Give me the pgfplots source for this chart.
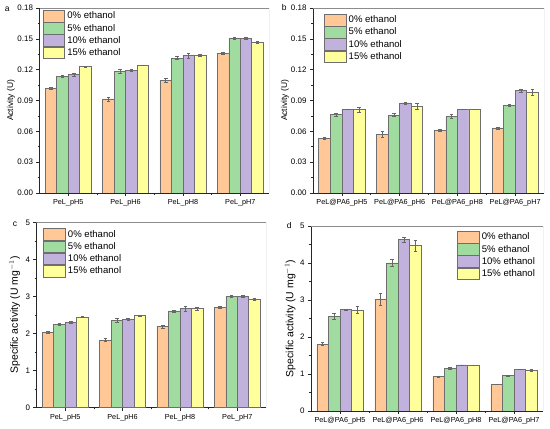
\documentclass[border=0pt]{standalone}
\usepackage{fontspec}
\setmainfont{Liberation Sans}
\usepackage{pgfplots}
\pgfplotsset{compat=1.18}
\definecolor{cA}{HTML}{FFC896}
\definecolor{cB}{HTML}{A0DCA0}
\definecolor{cC}{HTML}{C0B2DC}
\definecolor{cD}{HTML}{FFFF9C}
\definecolor{edge}{HTML}{6E6E6E}
\pgfplotsset{
  panel/.style={
    scale only axis, ybar,
    xmin=0.5, xmax=4.5, xtick={1,2,3,4}, minor xtick={1.5,2.5,3.5},
    ymin=0,
    axis x line*=bottom, axis y line*=left,
    tick align=outside, major tick length=3bp, minor tick length=1.8bp,
    tick style={draw=black!85, line width=0.6bp},
    axis line style={draw=black!85, line width=0.7bp},
    /pgf/number format/assume math mode=true,
    yticklabel style={font=\fontsize{8}{9}\selectfont},
    xticklabel style={font=\fontsize{7.3}{8}\selectfont},
    legend style={draw=none, fill=none, inner sep=0pt, outer sep=0pt,
      row sep=0pt, column sep=2bp,
      font=\fontsize{9.6}{11}\selectfont, cells={anchor=west},
      nodes={inner sep=0.5bp}},
    legend image code/.code={\draw[##1] (0bp,-5.8bp) rectangle (21.5bp,5.8bp);},
    every axis plot/.append style={draw=edge, line width=0.6bp, bar width=0.2},
    error bars/y dir=both, error bars/y explicit,
    error bars/error bar style={draw=black!60, line width=0.5bp},
    error bars/error mark options={rotate=90, mark size=1.8bp, draw=black!60, line width=0.5bp},
  },
  actpanel/.style={panel, ymax=0.18, ytick={0,0.03,...,0.18}, minor y tick num=1,
    yticklabel style={/pgf/number format/.cd, fixed, fixed zerofill, precision=2},
    ylabel={Activity (U)},
    ylabel style={font=\fontsize{8.5}{10}\selectfont}},
  sppanel/.style={panel, ymax=5, ytick={0,1,...,5}, minor y tick num=1,
    ylabel={Specific activity (U mg$^{-1}$)},
    ylabel style={font=\fontsize{10.5}{12}\selectfont}},
}
\newcommand{\frameTR}{\draw[black!45, line width=0.6bp] (rel axis cs:0,1) -- (rel axis cs:1,1) -- (rel axis cs:1,0);}
\begin{document}
\begin{tikzpicture}
\useasboundingbox (0,0) rectangle (550bp,429bp);
% ---------------- a
\begin{axis}[actpanel, at={(39.5bp,236bp)}, anchor=south west, width=229.5bp, height=185bp,
  xticklabels={PeL\_pH5,PeL\_pH6,PeL\_pH8,PeL\_pH7},
  ylabel style={at={(axis description cs:-0.124,0.5)}, anchor=center},
  legend style={at={(axis description cs:0.014,0.989)}, anchor=north west}]
\addplot[fill=cA, bar shift=-0.3] coordinates {(1,0.1019) +- (0,0.0012) (2,0.0915) +- (0,0.0020) (3,0.1097) +- (0,0.0018) (4,0.1360) +- (0,0.0012)};
\addplot[fill=cB, bar shift=-0.1] coordinates {(1,0.1133) +- (0,0.0010) (2,0.1185) +- (0,0.0020) (3,0.1312) +- (0,0.0015) (4,0.1510) +- (0,0.0010)};
\addplot[fill=cC, bar shift=0.1] coordinates {(1,0.1152) +- (0,0.0012) (2,0.1195) +- (0,0.0010) (3,0.1338) +- (0,0.0025) (4,0.1504) +- (0,0.0008)};
\addplot[fill=cD, bar shift=0.3] coordinates {(1,0.1230) +- (0,0.0002) (2,0.1243) +- (0,0.0002) (3,0.1341) +- (0,0.0012) (4,0.1468) +- (0,0.0012)};
\legend{0\% ethanol,5\% ethanol,10\% ethanol,15\% ethanol}
\frameTR
\end{axis}
% ---------------- b
\begin{axis}[actpanel, at={(313bp,236bp)}, anchor=south west, width=231bp, height=185bp,
  xticklabels={PeL@PA6\_pH5,PeL@PA6\_pH6,PeL@PA6\_pH8,PeL@PA6\_pH7},
  ylabel style={at={(axis description cs:-0.121,0.5)}, anchor=center},
  legend style={at={(axis description cs:0.048,0.968)}, anchor=north west}]
\addplot[fill=cA, bar shift=-0.3] coordinates {(1,0.0532) +- (0,0.0010) (2,0.0571) +- (0,0.0030) (3,0.0610) +- (0,0.0012) (4,0.0633) +- (0,0.0010)};
\addplot[fill=cB, bar shift=-0.1] coordinates {(1,0.0763) +- (0,0.0015) (2,0.0757) +- (0,0.0015) (3,0.0747) +- (0,0.0015) (4,0.0851) +- (0,0.0010)};
\addplot[fill=cC, bar shift=0.1] coordinates {(1,0.0815) +- (0,0.0002) (2,0.0877) +- (0,0.0010) (3,0.0815) +- (0,0.0002) (4,0.0995) +- (0,0.0010)};
\addplot[fill=cD, bar shift=0.3] coordinates {(1,0.0812) +- (0,0.0025) (2,0.0848) +- (0,0.0030) (3,0.0815) +- (0,0.0002) (4,0.0978) +- (0,0.0030)};
\legend{0\% ethanol,5\% ethanol,10\% ethanol,15\% ethanol}
\frameTR
\end{axis}
% ---------------- c
\begin{axis}[sppanel, at={(36.5bp,21.5bp)}, anchor=south west, width=229.5bp, height=185bp,
  xticklabels={PeL\_pH5,PeL\_pH6,PeL\_pH8,PeL\_pH7},
  ylabel style={at={(axis description cs:-0.095,0.5)}, anchor=center},
  legend style={at={(axis description cs:0.03,0.968)}, anchor=north west}]
\addplot[fill=cA, bar shift=-0.3] coordinates {(1,2.03) +- (0,0.03) (2,1.82) +- (0,0.04) (3,2.19) +- (0,0.04) (4,2.71) +- (0,0.03)};
\addplot[fill=cB, bar shift=-0.1] coordinates {(1,2.25) +- (0,0.03) (2,2.36) +- (0,0.05) (3,2.61) +- (0,0.03) (4,3.01) +- (0,0.03)};
\addplot[fill=cC, bar shift=0.1] coordinates {(1,2.30) +- (0,0.03) (2,2.39) +- (0,0.03) (3,2.67) +- (0,0.07) (4,3.00) +- (0,0.03)};
\addplot[fill=cD, bar shift=0.3] coordinates {(1,2.45) +- (0,0.01) (2,2.48) +- (0,0.01) (3,2.67) +- (0,0.03) (4,2.93) +- (0,0.03)};
\legend{0\% ethanol,5\% ethanol,10\% ethanol,15\% ethanol}
\frameTR
\end{axis}
% ---------------- d
\begin{axis}[sppanel, at={(311bp,18bp)}, anchor=south west, width=232bp, height=185bp,
  xticklabels={PeL@PA6\_pH5,PeL@PA6\_pH6,PeL@PA6\_pH8,PeL@PA6\_pH7},
  ylabel style={at={(axis description cs:-0.09,0.5)}, anchor=center},
  legend style={at={(axis description cs:0.63,0.973)}, anchor=north west}]
\addplot[fill=cA, bar shift=-0.3] coordinates {(1,1.805) +- (0,0.04) (2,3.02) +- (0,0.15) (3,0.93) +- (0,0.02) (4,0.72) +- (0,0.01)};
\addplot[fill=cB, bar shift=-0.1] coordinates {(1,2.56) +- (0,0.07) (2,4.00) +- (0,0.09) (3,1.146) +- (0,0.03) (4,0.957) +- (0,0.01)};
\addplot[fill=cC, bar shift=0.1] coordinates {(1,2.74) +- (0,0.005) (2,4.63) +- (0,0.07) (3,1.245) +- (0,0.005) (4,1.128) +- (0,0.01)};
\addplot[fill=cD, bar shift=0.3] coordinates {(1,2.73) +- (0,0.09) (2,4.47) +- (0,0.15) (3,1.245) +- (0,0.005) (4,1.10) +- (0,0.03)};
\legend{0\% ethanol,5\% ethanol,10\% ethanol,15\% ethanol}
\frameTR
\end{axis}
% panel letters
\node[font=\fontsize{8.5}{10}\selectfont] at (7.3bp,419.7bp) {a};
\node[font=\fontsize{8.5}{10}\selectfont] at (284.3bp,421.7bp) {b};
\node[font=\fontsize{8.5}{10}\selectfont] at (15bp,205bp) {c};
\node[font=\fontsize{8.5}{10}\selectfont] at (289.3bp,203.3bp) {d};
\end{tikzpicture}
\end{document}
